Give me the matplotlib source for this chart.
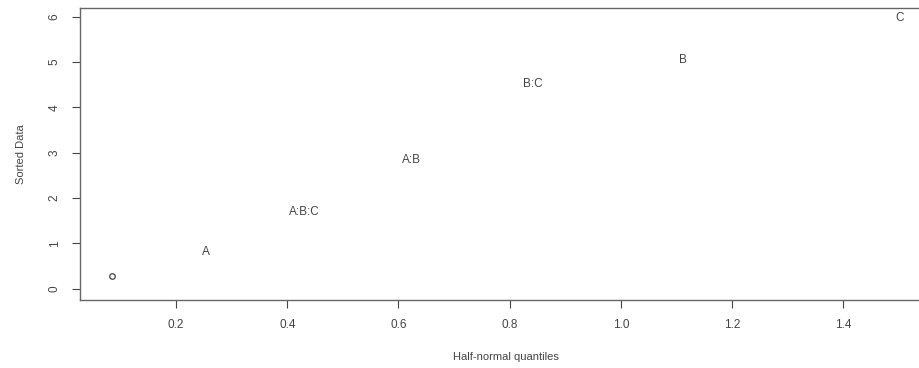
import matplotlib.pyplot as plt

plt.rcParams['font.family'] = ['Liberation Sans', 'DejaVu Sans']

# half-normal quantiles and sorted effects
quantiles = [0.084, 0.253, 0.431, 0.623, 0.842, 1.111, 1.501]
sorted_data = [0.28, 0.80, 1.68, 2.84, 4.52, 5.05, 5.96]
labels = ["", "A", "A:B:C", "A:B", "B:C", "B", "C"]

ink = "#444444"

fig = plt.figure(figsize=(9.2, 3.68), dpi=100)
ax = fig.add_axes([80 / 920, 68 / 368, 851 / 920, 292 / 368])

for q, d, lab in zip(quantiles, sorted_data, labels):
    if lab:
        ax.text(q, d, lab, ha="center", va="center", fontsize=8.5, color=ink)
    else:
        # unlabelled effect drawn as an open circle
        ax.plot(q, d, marker="o", ms=4, mfc="none", mec=ink, mew=0.9)

ax.set_xlim(0.027, 1.558)
ax.set_ylim(-0.25, 6.19)
ax.set_xticks([0.2, 0.4, 0.6, 0.8, 1.0, 1.2, 1.4])
ax.set_xticklabels(["0.2", "0.4", "0.6", "0.8", "1.0", "1.2", "1.4"])
ax.set_yticks(range(7))
for lab in ax.get_yticklabels():
    lab.set_rotation(90)
    lab.set_va("center")

ax.tick_params(direction="out", length=6, width=0.8, colors=ink,
               labelsize=8.5, pad=8)
for s in ax.spines.values():
    s.set_color("#666666")
    s.set_linewidth(1.0)
ax.spines["right"].set_visible(False)

ax.set_xlabel("Half-normal quantiles", fontsize=8, color=ink, labelpad=15)
ax.set_ylabel("Sorted Data", fontsize=8, color=ink, labelpad=16)

fig.savefig("out.png", dpi=100)
